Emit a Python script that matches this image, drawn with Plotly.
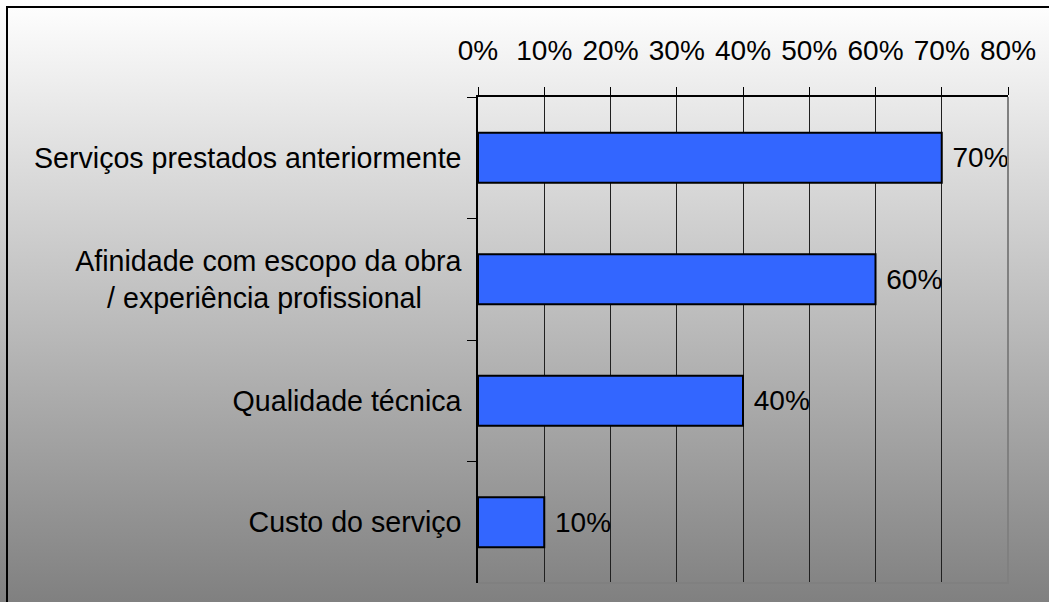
import base64

import plotly.graph_objects as go

categorias = [
    "Serviços prestados anteriormente",
    "Afinidade com escopo da obra<br>/ experiência profissional" + "\u00a0" * 5,
    "Qualidade técnica",
    "Custo do serviço",
]
percentuais = [0.70, 0.60, 0.40, 0.10]
ticks_x = [0, 0.1, 0.2, 0.3, 0.4, 0.5, 0.6, 0.7, 0.8]

W, H = 1049, 602
L, R, T, B = 478, 41, 97, 19
pw, ph = W - L - R, H - T - B

FONTE = dict(family="Liberation Sans, Arial, sans-serif", size=28, color="black")

# fundo em degradê (branco -> cinza) como imagem SVG
svg = (
    '<svg xmlns="http://www.w3.org/2000/svg" width="10" height="100" '
    'viewBox="0 0 10 100" preserveAspectRatio="none">'
    '<defs><linearGradient id="g" x1="0" y1="0" x2="0" y2="1">'
    '<stop offset="0" stop-color="#ffffff"/><stop offset="1" stop-color="#808080"/>'
    '</linearGradient></defs><rect width="10" height="100" fill="url(#g)"/></svg>'
)
svg_uri = "data:image/svg+xml;base64," + base64.b64encode(svg.encode()).decode()


def px_x(p):
    return (p - L) / pw


def px_y(p):
    return (H - B - p) / ph


fig = go.Figure()
fig.add_trace(go.Bar(
    x=percentuais,
    y=categorias,
    orientation="h",
    marker=dict(color="#3366FF", line=dict(color="black", width=2)),
    texttemplate="\u00a0%{x:.0%}",
    textposition="outside",
    textfont=FONTE,
    cliponaxis=False,
    hoverinfo="skip",
))

fig.update_layout(
    width=W,
    height=H,
    margin=dict(l=L, r=R, t=T, b=B, pad=0),
    paper_bgcolor="rgba(0,0,0,0)",
    plot_bgcolor="#C0C0C0",
    font=FONTE,
    showlegend=False,
    bargap=0.59,
    images=[dict(
        source=svg_uri,
        xref="paper", yref="paper",
        x=px_x(0), y=px_y(0),
        sizex=px_x(W) - px_x(0), sizey=px_y(0) - px_y(H),
        xanchor="left", yanchor="top",
        sizing="stretch", layer="below",
    )],
    shapes=[
        # contorno da figura (só topo e esquerda aparecem)
        dict(type="path", xref="paper", yref="paper",
             path=f"M {px_x(7)},{px_y(H + 5)} L {px_x(7)},{px_y(7)} L {px_x(W + 5)},{px_y(7)}",
             line=dict(color="black", width=2)),
        # borda cinza da área de plotagem (direita e base)
        dict(type="path", xref="x domain", yref="y domain",
             path="M 1,1 L 1,0 L 0,0",
             line=dict(color="#808080", width=2), layer="above"),
    ],
)

fig.update_xaxes(
    side="top",
    range=[0, 0.8],
    tickvals=ticks_x,
    tickformat=".0%",
    ticks="outside",
    ticklen=8,
    tickcolor="black",
    showline=True,
    linecolor="black",
    linewidth=1.5,
    showgrid=True,
    gridcolor="#202020",
    gridwidth=1,
    zeroline=False,
    ticklabelstandoff=16,
    fixedrange=True,
)
fig.update_yaxes(
    autorange="reversed",
    tickson="boundaries",
    ticks="outside",
    ticklen=9,
    tickcolor="black",
    tickfont=dict(size=28.6),
    showline=True,
    linecolor="black",
    linewidth=1.5,
    showgrid=False,
    ticklabelstandoff=9,
    fixedrange=True,
)

fig.write_html(
    "out.html",
    config=dict(displayModeBar=False),
    post_script="document.body.style.margin = '0';",
)
